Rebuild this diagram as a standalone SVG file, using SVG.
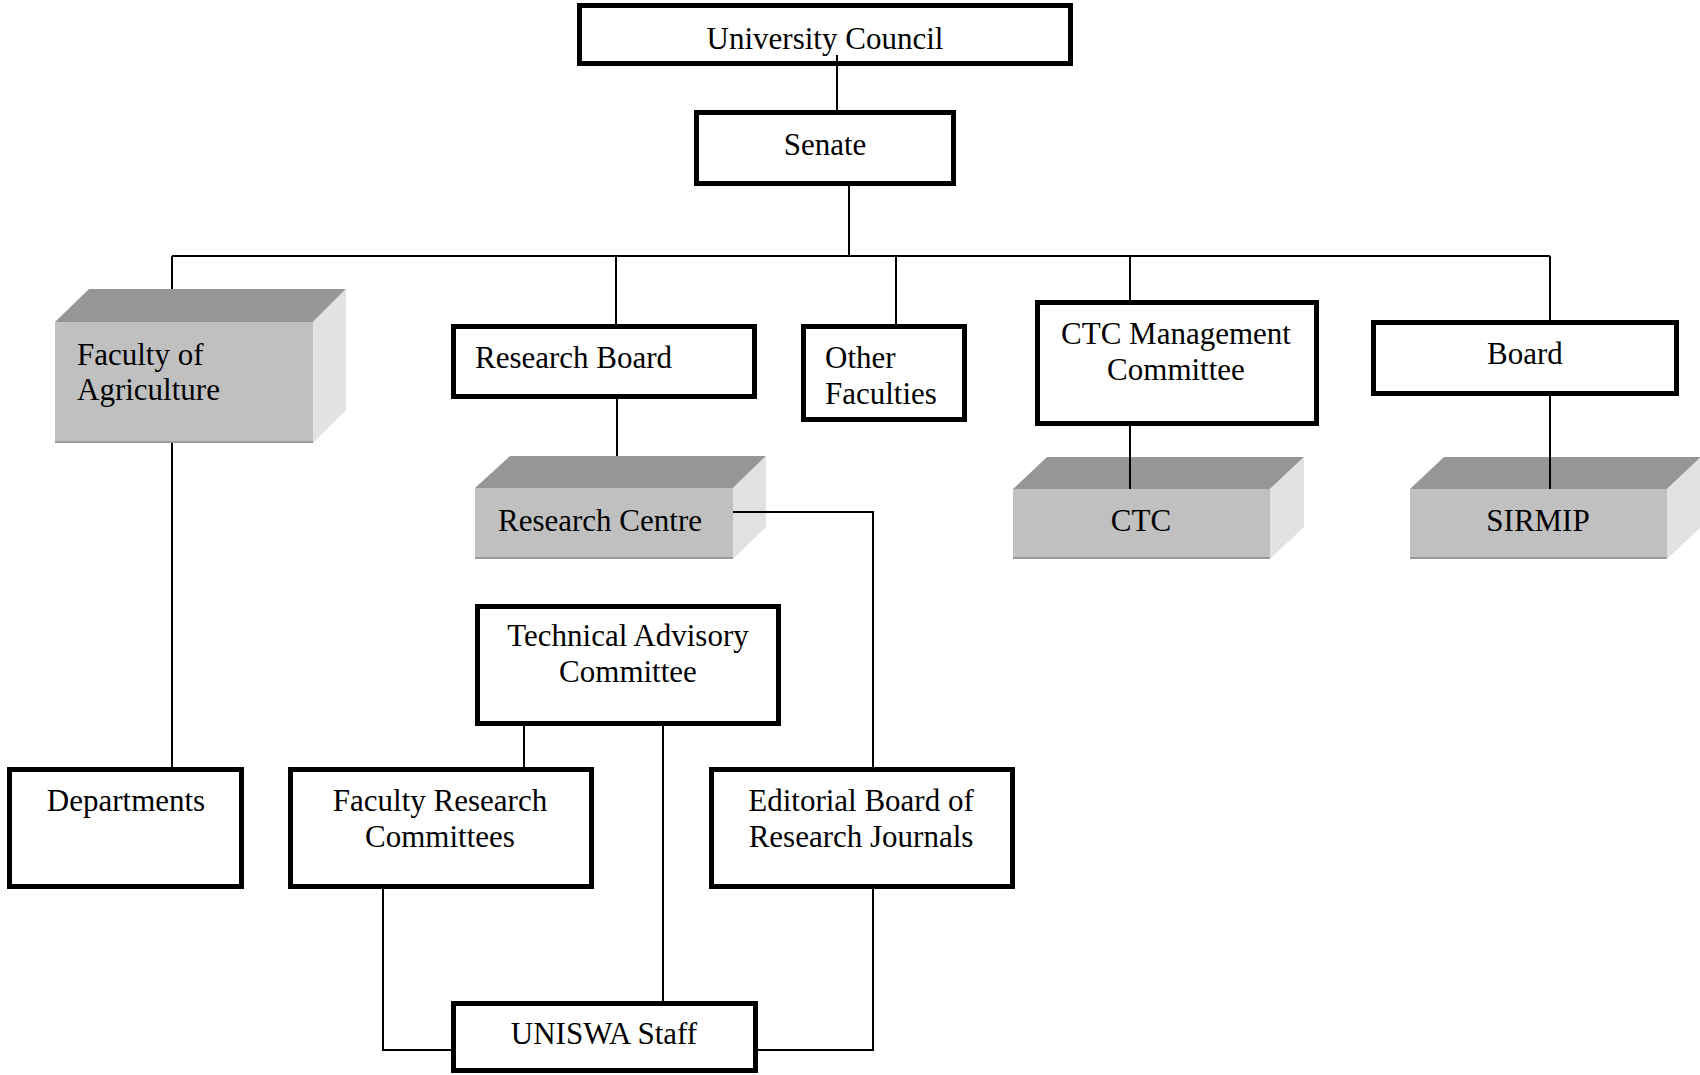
<svg xmlns="http://www.w3.org/2000/svg" width="1700" height="1075" viewBox="0 0 1700 1075">
<style>
.box{fill:#fff;stroke:#000;stroke-width:5}
.front{fill:#c0c0c0}
.top{fill:#969696}
.side{fill:#e2e2e2}
.edge{stroke:#9a9a9a;stroke-width:2}
text{font-family:"Liberation Serif","Times New Roman",serif;font-size:31px;fill:#000}
.c{text-anchor:middle}
.conn{fill:none;stroke:#000;stroke-width:2}
</style>
<rect width="1700" height="1075" fill="#fff"/>
<g id="university-council"><rect class="box" x="579.5" y="5.5" width="491" height="58"/><text class="c" x="825" y="49">University Council</text></g>
<g id="senate"><rect class="box" x="696.5" y="112.5" width="257" height="71"/><text class="c" x="825" y="155">Senate</text></g>
<g id="faculty-agriculture">
<polygon class="top" points="55,322 89,289 346,289 313,322"/>
<polygon class="side" points="313,322 346,289 346,410 313,443"/>
<rect class="front" x="55" y="322" width="258" height="121"/>
<line class="edge" x1="55" y1="442" x2="313" y2="442"/>
<text x="77" y="365">Faculty of</text><text x="77" y="400">Agriculture</text></g>
<g id="research-board"><rect class="box" x="453.5" y="326.5" width="301" height="70"/><text x="475" y="368">Research Board</text></g>
<g id="research-centre">
<polygon class="top" points="475,488 510,456 766,456 733,488"/>
<polygon class="side" points="733,488 766,456 766,527 733,559"/>
<rect class="front" x="475" y="488" width="258" height="71"/>
<line class="edge" x1="475" y1="558" x2="733" y2="558"/>
<text x="498" y="531">Research Centre</text></g>
<g id="other-faculties"><rect class="box" x="803.5" y="326.5" width="161" height="93"/><text x="825" y="368">Other</text><text x="825" y="404">Faculties</text></g>
<g id="ctc-management"><rect class="box" x="1037.5" y="302.5" width="279" height="121"/><text class="c" x="1176" y="344">CTC Management</text><text class="c" x="1176" y="380">Committee</text></g>
<g id="board"><rect class="box" x="1373.5" y="322.5" width="303" height="71"/><text class="c" x="1525" y="364">Board</text></g>
<g id="ctc">
<polygon class="top" points="1013,489 1047,457 1304,457 1270,489"/>
<polygon class="side" points="1270,489 1304,457 1304,527 1270,559"/>
<rect class="front" x="1013" y="489" width="257" height="70"/>
<line class="edge" x1="1013" y1="558" x2="1270" y2="558"/>
<text class="c" x="1141" y="531">CTC</text></g>
<g id="sirmip">
<polygon class="top" points="1410,489 1444,457 1701,457 1667,489"/>
<polygon class="side" points="1667,489 1701,457 1701,527 1667,559"/>
<rect class="front" x="1410" y="489" width="257" height="70"/>
<line class="edge" x1="1410" y1="558" x2="1667" y2="558"/>
<text class="c" x="1538" y="531">SIRMIP</text></g>
<g id="technical-advisory"><rect class="box" x="477.5" y="606.5" width="301" height="117"/><text class="c" x="628" y="646">Technical Advisory</text><text class="c" x="628" y="682">Committee</text></g>
<g id="departments"><rect class="box" x="9.5" y="769.5" width="232" height="117"/><text class="c" x="126" y="811">Departments</text></g>
<g id="faculty-research"><rect class="box" x="290.5" y="769.5" width="301" height="117"/><text class="c" x="440" y="811">Faculty Research</text><text class="c" x="440" y="847">Committees</text></g>
<g id="editorial-board"><rect class="box" x="711.5" y="769.5" width="301" height="117"/><text class="c" x="861" y="811">Editorial Board of</text><text class="c" x="861" y="847">Research Journals</text></g>
<g id="uniswa-staff"><rect class="box" x="453.5" y="1003.5" width="302" height="67"/><text class="c" x="604" y="1044">UNISWA Staff</text></g>
<g id="connectors">
<path class="conn" d="M837,55 V110"/>
<path class="conn" d="M849,186 V256"/>
<path class="conn" d="M172,256 H1550"/>
<path class="conn" d="M172,256 V289 M172,443 V767"/>
<path class="conn" d="M616,256 V324 M617,399 V456"/>
<path class="conn" d="M896,256 V324"/>
<path class="conn" d="M1130,256 V300 M1130,426 V489"/>
<path class="conn" d="M1550,256 V320 M1550,396 V489"/>
<path class="conn" d="M733,512 H873 V767"/>
<path class="conn" d="M524,726 V767"/>
<path class="conn" d="M663,726 V1001"/>
<path class="conn" d="M383,889 V1050 H451"/>
<path class="conn" d="M873,889 V1050 H758"/>
</g>
</svg>
